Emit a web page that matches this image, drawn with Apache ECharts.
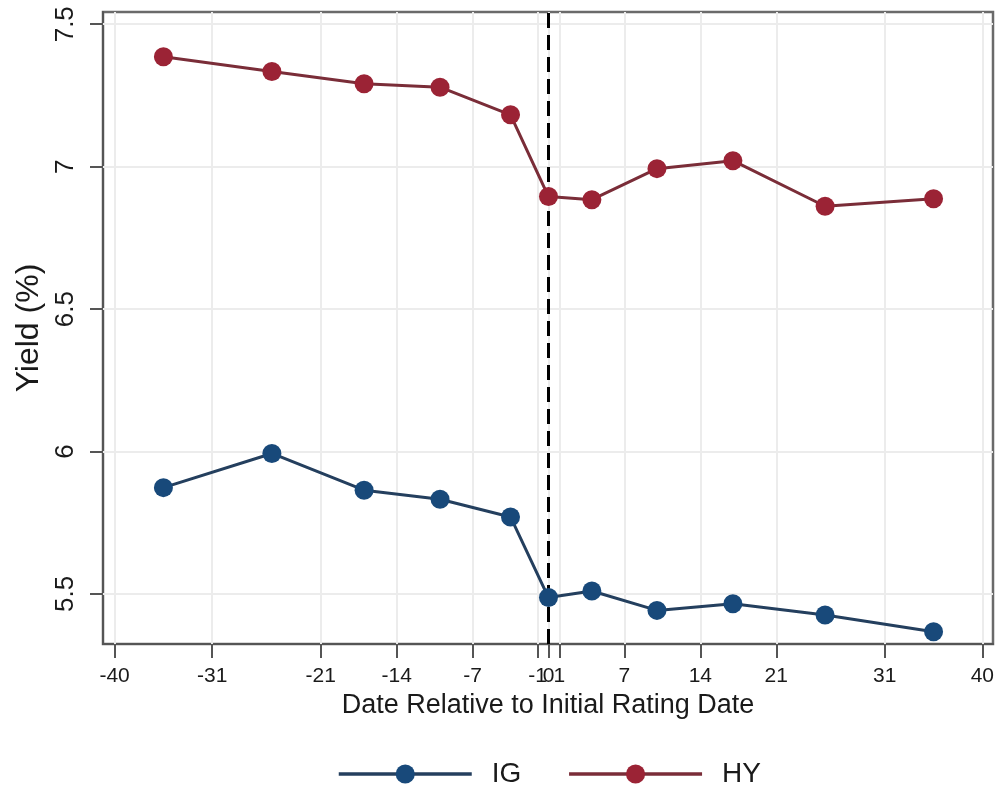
<!DOCTYPE html>
<html>
<head>
<meta charset="utf-8">
<script src="https://cdn.jsdelivr.net/npm/echarts@6/dist/echarts.min.js"></script>
<style>
html,body{margin:0;padding:0;background:#fff;}
#chart{width:1000px;height:797px;}
</style>
</head>
<body>
<div id="chart"></div>
<script>
// ---- data ----
const xValues = [-35.5, -25.5, -17, -10, -3.5, 0, 4, 10, 17, 25.5, 35.5];
const igYield = [5.873, 5.993, 5.864, 5.832, 5.770, 5.487, 5.510, 5.442, 5.465, 5.426, 5.367];
const hyYield = [7.386, 7.334, 7.291, 7.279, 7.182, 6.895, 6.884, 6.993, 7.021, 6.861, 6.887];
const xTicks = [-40, -31, -21, -14, -7, -1, 0, 1, 7, 14, 21, 31, 40];
const yTicks = [5.5, 6, 6.5, 7, 7.5];
const eventDate = 0;

const FONT = '"Liberation Sans", Arial, Helvetica, sans-serif';
const chart = echarts.init(document.getElementById('chart'), null, {renderer: 'canvas'});

const pairs = arr => xValues.map((x, i) => [x, arr[i]]);

chart.setOption({
  animation: false,
  backgroundColor: '#ffffff',
  textStyle: {fontFamily: FONT},
  grid: {
    left: 103, right: 7, top: 12, bottom: 153,
    show: true, borderColor: '#6a6a6a', borderWidth: 2.5, backgroundColor: '#ffffff'
  },
  xAxis: {
    type: 'value', min: -41.07, max: 40.98,
    name: 'Date Relative to Initial Rating Date',
    nameLocation: 'middle', nameGap: 47,
    nameTextStyle: {fontSize: 27, color: '#1a1a1a', fontFamily: FONT},
    axisLine: {show: true, onZero: false, lineStyle: {color: '#555', width: 2}},
    axisTick: {show: true, customValues: xTicks, length: 14, lineStyle: {color: '#555', width: 2}},
    axisLabel: {customValues: xTicks, fontSize: 21, color: '#1a1a1a', margin: 22, fontFamily: FONT},
    splitLine: {show: false}
  },
  yAxis: {
    type: 'value', min: 5.324, max: 7.543,
    name: 'Yield (%)',
    nameLocation: 'middle', nameGap: 58,
    nameTextStyle: {fontSize: 32, color: '#1a1a1a', fontFamily: FONT},
    axisLine: {show: true, onZero: false, lineStyle: {color: '#555', width: 2}},
    axisTick: {show: true, customValues: yTicks, length: 13, lineStyle: {color: '#555', width: 2}},
    axisLabel: {customValues: yTicks, rotate: 90, fontSize: 26, color: '#1a1a1a', margin: 24, fontFamily: FONT},
    splitLine: {show: false}
  },
  legend: {
    left: 332, top: 755,
    itemWidth: 133, itemHeight: 24, itemGap: 46,
    lineStyle: {width: 3.5},
    textStyle: {fontSize: 28, color: '#1a1a1a', fontFamily: FONT, padding: [0, 0, 0, 15]},
    data: ['IG', 'HY']
  },
  series: [
    {
      name: 'grid', type: 'line', data: [], silent: true, z: 1,
      markLine: {
        silent: true, symbol: 'none', label: {show: false}, animation: false,
        lineStyle: {color: '#ececec', width: 2, type: 'solid'},
        data: xTicks.map(v => ({xAxis: v})).concat(yTicks.map(v => ({yAxis: v})))
      }
    },
    {
      name: 'event', type: 'line', data: [], silent: true, z: 4,
      markLine: {
        silent: true, symbol: 'none', label: {show: false}, animation: false,
        lineStyle: {color: '#000', width: 3, type: [15, 7]},
        data: [{xAxis: eventDate}]
      }
    },
    {
      name: 'IG', type: 'line', data: pairs(igYield), z: 5,
      symbol: 'circle', symbolSize: 19,
      lineStyle: {color: '#243f5e', width: 3},
      itemStyle: {color: '#18497a'}
    },
    {
      name: 'HY', type: 'line', data: pairs(hyYield), z: 5,
      symbol: 'circle', symbolSize: 19,
      lineStyle: {color: '#7a2d38', width: 3},
      itemStyle: {color: '#9b2335'}
    }
  ]
});
</script>
</body>
</html>
